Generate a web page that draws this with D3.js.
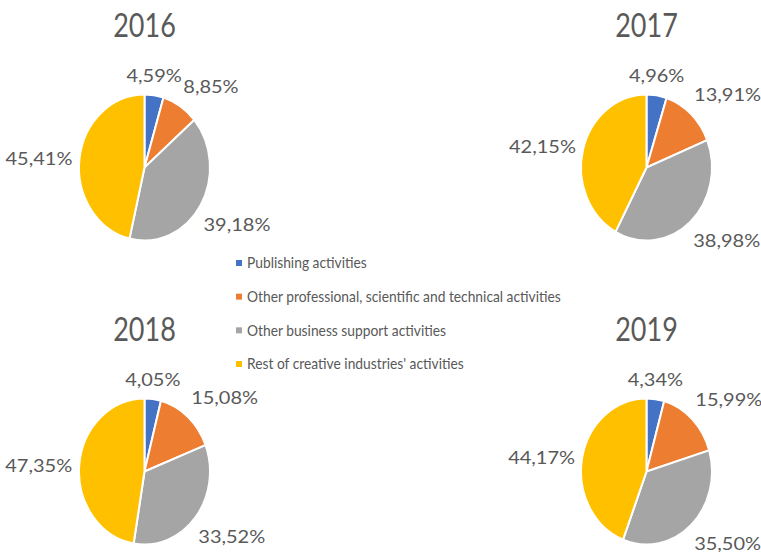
<!DOCTYPE html>
<html>
<head>
<meta charset="utf-8">
<script src="https://cdn.jsdelivr.net/npm/d3@7"></script>
<style>
  body { margin: 0; background: #fff; }
  svg { display: block; }
  text { font-family: Lato, "Open Sans", sans-serif; fill: #595959; }
</style>
</head>
<body>
<svg id="chart" width="761" height="552"></svg>
<script>
// data
const years = ["2016", "2017", "2018", "2019"];
const categories = [
  "Publishing activities",
  "Other professional, scientific and technical activities",
  "Other business support activities",
  "Rest of creative industries' activities"
];
const share2016 = [4.59, 8.85, 39.18, 45.41];
const share2017 = [4.96, 13.91, 38.98, 42.15];
const share2018 = [4.05, 15.08, 33.52, 47.35];
const share2019 = [4.34, 15.99, 35.50, 44.17];
const shares = [share2016, share2017, share2018, share2019];
const colors = ["#4472C4", "#ED7D31", "#A5A5A5", "#FFC000"];

const svg = d3.select("#chart");

// the picture is a bit stretched vertically
const rx = 65.5, stretch = 1.115;
const ry = rx * stretch;

// panel centres (2x2 grid)
const col = d3.scaleOrdinal().domain([0, 1]).range([144.5, 646.5]);
const row = d3.scaleOrdinal().domain([0, 1]).range([167.5, 471.5]);

const pie = d3.pie().sort(null).value(d => d);
const arc = d3.arc().innerRadius(0).outerRadius(rx);
const fmt = v => d3.format(".2f")(v).replace(".", ",") + "%";
const labelSize = 20, labelSquash = 0.86;
const capH = labelSize * 0.72 * labelSquash;

// excel-like "outside end": box hangs off the rim point at the mid angle
const side = v => Math.sign(v) * Math.max(0, Math.min(1, (Math.abs(v) - 0.2) / 0.3));
function labelPos(a, w) {
  const s = Math.sin(a), c = Math.cos(a);
  const ex = rx * s, ey = -ry * c;
  const sx = side(s), sy = side(-c);
  const x = ex + sx * (w / 2 + (sx > 0 ? 3 : 7));
  const y = ey + sy * (capH / 2 + 13);
  return [x, y];
}

years.forEach((yr, i) => {
  const cx = col(i % 2), cy = row(Math.floor(i / 2));
  const g = svg.append("g");

  // title
  g.append("text")
    .attr("transform", `translate(${cx},${cy - 131}) scale(1,1.18)`)
    .attr("text-anchor", "middle")
    .attr("font-size", 27)
    .text(yr);

  const arcs = pie(shares[i]);

  g.append("g")
    .attr("transform", `translate(${cx},${cy}) scale(1,${stretch})`)
    .selectAll("path")
    .data(arcs)
    .join("path")
    .attr("d", arc)
    .attr("fill", (d, j) => colors[j])
    .attr("stroke", "#fff")
    .attr("stroke-width", 2)
    .attr("vector-effect", "non-scaling-stroke");

  g.selectAll("text.lbl")
    .data(arcs)
    .join("text")
    .attr("class", "lbl")
    .attr("font-size", labelSize)
    .attr("text-anchor", "middle")
    .text(d => fmt(d.data))
    .each(function (d) {
      const a = (d.startAngle + d.endAngle) / 2;
      const [dx, dy] = labelPos(a, this.getComputedTextLength());
      d3.select(this)
        .attr("transform", `translate(${cx + dx},${cy + dy + capH / 2}) scale(1,${labelSquash})`);
    });
});

// legend in the middle
const legendY = d3.scalePoint().domain(categories).range([263, 364]);
const legend = svg.append("g").attr("transform", "translate(236,0)");
const item = legend.selectAll("g")
  .data(categories)
  .join("g")
  .attr("transform", d => `translate(0,${legendY(d)})`);
item.append("rect")
  .attr("x", 0).attr("y", -3)
  .attr("width", 6).attr("height", 6)
  .attr("fill", (d, j) => colors[j]);
item.append("text")
  .attr("x", 11)
  .attr("y", 5)
  .attr("font-size", 13.8)
  .attr("transform", "scale(1,1.08)")
  .attr("transform-origin", "0 0")
  .text(d => d);
</script>
</body>
</html>
